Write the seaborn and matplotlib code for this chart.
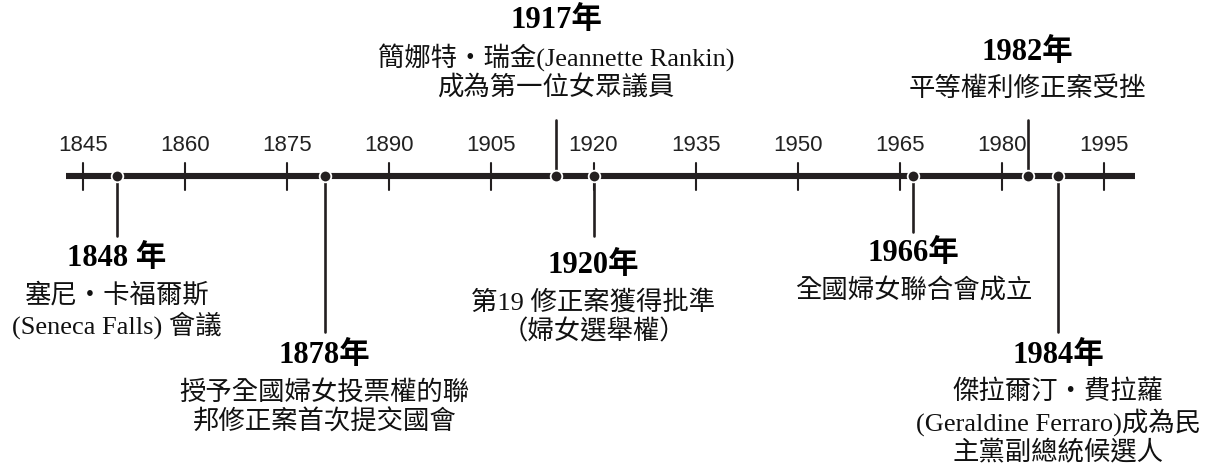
import matplotlib
matplotlib.use("Agg")
import matplotlib.pyplot as plt
import seaborn as sns
import pandas as pd

# ---- data ----
tick_years = [1845, 1860, 1875, 1890, 1905, 1920, 1935, 1950, 1965, 1980, 1995]
event_titles = ["1848 年", "1878年", "1917年", "1920年", "1966年", "1982年", "1984年"]
# where the reference draws each event's dot on the year axis
event_pos = [1850.0, 1880.5, 1914.5, 1920.0, 1967.0, 1983.8, 1988.3]
event_texts = [
    "塞尼・卡福爾斯\n(Seneca Falls) 會議",
    "授予全國婦女投票權的聯\n邦修正案首次提交國會",
    "簡娜特・瑞金(Jeannette Rankin)\n成為第一位女眾議員",
    "第19 修正案獲得批準\n（婦女選舉權）",
    "全國婦女聯合會成立",
    "平等權利修正案受挫",
    "傑拉爾汀・費拉蘿\n(Geraldine Ferraro)成為民\n主黨副總統候選人",
]
# layout: stem end (px from top) and title row (px from top)
stem_end = [237, 333, 121, 237, 233, 121, 333]
title_y = [258, 355, 20, 265, 253, 52, 355]

sns.set_theme(style="white")
plt.rcParams["font.family"] = ["Liberation Serif", "Noto Sans CJK TC", "DejaVu Sans"]

W, H = 1215, 464
fig = plt.figure(figsize=(W / 100, H / 100), dpi=100)
ax = fig.add_axes([0, 0, 1, 1])
pxyr = 1021 / 150
x0 = 1845 - 83 / pxyr
ax.set_xlim(x0, x0 + W / pxyr)
ax.set_ylim(H, 0)
ax.axis("off")

col = "#231f20"
axis_y = 177

# main axis
line_df = pd.DataFrame({"x": [1842.5, 1999.6], "y": [axis_y, axis_y]})
sns.lineplot(data=line_df, x="x", y="y", ax=ax, color=col, lw=4.4,
             solid_capstyle="butt", zorder=2)

# ticks and labels
for ty in tick_years:
    ax.plot([ty, ty], [164, 191], color=col, lw=1.5, zorder=2)
    ax.text(ty, 146, str(ty), ha="center", va="center", fontsize=16,
            family=["Liberation Sans", "DejaVu Sans"], color="#222")

# stems
for xp, end in zip(event_pos, stem_end):
    ax.plot([xp, xp], [axis_y, end], color=col, lw=1.9, zorder=3)

# dots
dots = pd.DataFrame({"pos": event_pos, "y": [axis_y] * len(event_pos)})
sns.scatterplot(data=dots, x="pos", y="y", ax=ax, color=col, s=70,
                edgecolor="white", linewidth=1.3, zorder=5)
if ax.get_legend():
    ax.get_legend().remove()

line_h = 30
for i, (xp, t, d) in enumerate(zip(event_pos, event_titles, event_texts)):
    ax.text(xp, title_y[i], t, ha="center", va="center", fontsize=22,
            fontweight="bold", color="black",
            family=["Liberation Serif", "Noto Sans CJK TC"])
    for k, ln in enumerate(d.split("\n")):
        ax.text(xp, title_y[i] + 37 + k * line_h, ln, ha="center", va="center",
                fontsize=19, color="#111", fontweight="light",
                family=["Liberation Serif", "Noto Sans CJK TC"])

fig.savefig("out.png", dpi=100)
